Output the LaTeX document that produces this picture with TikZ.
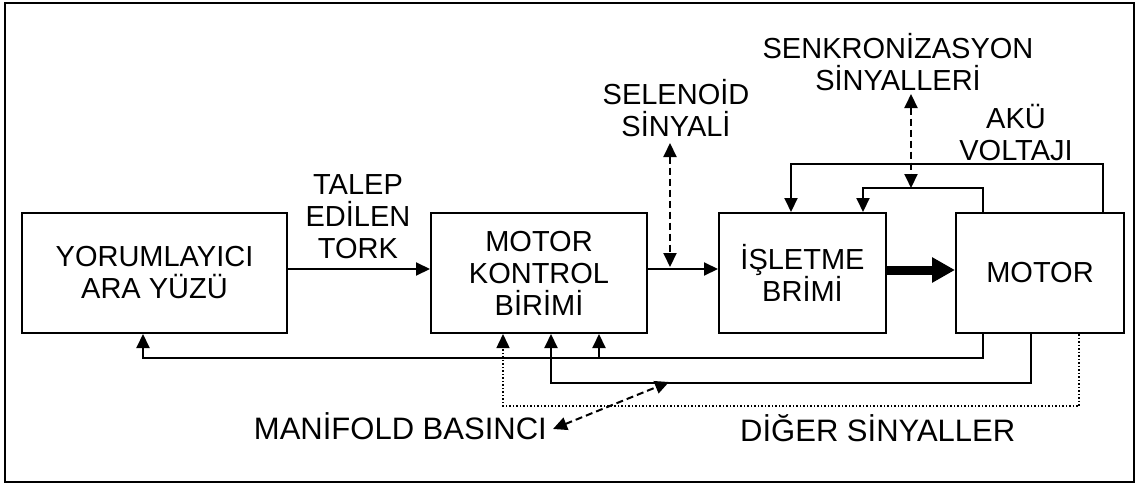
\documentclass[tikz,border=0pt]{standalone}
\usepackage{fontspec}
\setmainfont{Liberation Sans}
\usetikzlibrary{arrows.meta}
\newcommand\mainfnt{\fontsize{29}{32}\selectfont}
\newcommand\bigfnt{\fontsize{31}{34}\selectfont}
\begin{document}
\begin{tikzpicture}[x=1pt,y=-1pt,
  box/.style={draw, line width=2pt, minimum height=120pt, align=center, font=\mainfnt, inner sep=0pt},
  lbl/.style={align=center, font=\mainfnt, inner sep=0pt},
  conn/.style={line width=2pt},
  tip/.tip={Triangle[length=14pt,width=13pt]},
  arr/.style={conn, -tip},
  darr/.style={conn, dash pattern=on 7pt off 4pt, tip-tip},
  dotarr/.style={line width=1.5pt, dash pattern=on 1.5pt off 2pt, -tip},
  fat/.style={line width=9pt, -{Triangle[length=23pt,width=24pt]}}]
\useasboundingbox (0,0) rectangle (1139,487);
\draw[line width=2.5pt] (5,3) rectangle (1134,482);

\node[box, minimum width=265pt] (b1) at (154.5,273) {YORUMLAYICI\\ARA YÜZÜ};
\node[box, minimum width=216pt] (b2) at (539,273) {MOTOR\\KONTROL\\BİRİMİ};
\node[box, minimum width=167pt] (b3) at (802.5,273) {İŞLETME\\BRİMİ};
\node[box, minimum width=168pt] (b4) at (1040,273) {MOTOR};

\node[lbl, anchor=base] (talep) at (358,258) {TALEP\\EDİLEN\\TORK};
\node[lbl, anchor=base] (sel) at (676,136) {SELENOİD\\SİNYALİ};
\node[lbl, anchor=base] (senk) at (898,90) {SENKRONİZASYON\\SİNYALLERİ};
\node[lbl, anchor=base] (aku) at (1016,160) {AKÜ\\VOLTAJI};
\node[font=\bigfnt, inner sep=0pt, anchor=base east] (man) at (547,439) {MANİFOLD BASINCI};
\node[font=\bigfnt, inner sep=0pt, anchor=base west] (diger) at (740,441) {DİĞER SİNYALLER};

\draw[arr] ([yshift=4pt]b1.east) -- ([yshift=4pt]b2.west);
\draw[arr] ([yshift=4pt]b2.east) -- ([yshift=4pt]b3.west);
\draw[fat] ([yshift=3pt]b3.east) -- ([yshift=3pt]b4.west);

% top feedback lines
\draw[arr] ([xshift=63pt]b4.north) -- ++(0,-48) -| ([xshift=-11.5pt]b3.north);
\draw[arr] ([xshift=-57pt]b4.north) -- ++(0,-24) -| ([xshift=60.5pt]b3.north);

% bottom feedback lines
\draw[arr] ([xshift=-57pt]b4.south) -- ++(0,24) -| ([xshift=-11.5pt]b1.south);
\draw[arr] ([xshift=60pt,yshift=-24pt]b2.south) -- ([xshift=60pt]b2.south);
\draw[arr] ([xshift=-9pt]b4.south) -- ++(0,49) -| ([xshift=12pt]b2.south);
\draw[dotarr] ([xshift=39pt]b4.south) -- ++(0,72) -| ([xshift=-36pt]b2.south);

% dashed signal arrows
\coordinate (selt) at (670,143);
\coordinate (selj) at (670,267);
\draw[darr] (selt) -- (selj);
\coordinate (senkt) at (911,94);
\coordinate (senkj) at (911,188);
\draw[darr] (senkt) -- (senkj);
\coordinate (mant) at (553,429);
\coordinate (manj) at (669,382);
\draw[darr] (mant) -- (manj);
\end{tikzpicture}
\end{document}
